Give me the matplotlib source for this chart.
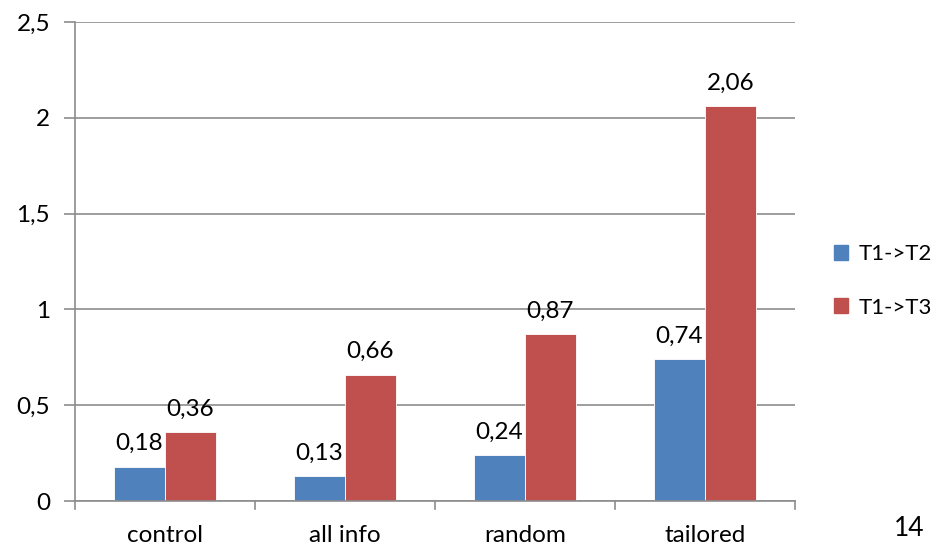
import matplotlib
matplotlib.use("Agg")
import matplotlib.pyplot as plt
from matplotlib.patches import Patch
import numpy as np

categories = ["control", "all info", "random", "tailored"]
series_names = ["T1->T2", "T1->T3"]
t1_t2 = [0.18, 0.13, 0.24, 0.74]
t1_t3 = [0.36, 0.66, 0.87, 2.06]
y_ticks = [0, 0.5, 1, 1.5, 2, 2.5]
y_tick_labels = ["0", "0,5", "1", "1,5", "2", "2,5"]
page_number = "14"

plt.rcParams["font.family"] = ["Lato", "DejaVu Sans"]

blue = "#4F81BD"
red = "#C0504D"
grid_color = "#8C8C8C"
fs = 17.5

fig = plt.figure(figsize=(9.48, 5.45), dpi=100)
ax = fig.add_axes([75 / 948, 1 - 501 / 545, 720 / 948, 479 / 545])

x = np.arange(len(categories))
w = 0.283
b1 = ax.bar(x - w / 2, t1_t2, width=w, color=blue, edgecolor="white", linewidth=0.6)
b2 = ax.bar(x + w / 2, t1_t3, width=w, color=red, edgecolor="white", linewidth=0.6)

def fmt(v):
    return f"{v:.2f}".replace(".", ",")

for bars, vals in ((b1, t1_t2), (b2, t1_t3)):
    for rect, v in zip(bars, vals):
        ax.annotate(fmt(v), (rect.get_x() + rect.get_width() / 2, v),
                    xytext=(0, 9), textcoords="offset points",
                    ha="center", va="bottom", fontsize=fs, color="black")

ax.set_xlim(-0.5, len(categories) - 0.5)
ax.set_ylim(0, 2.5)
ax.set_yticks(y_ticks)
ax.set_yticklabels(y_tick_labels)
ax.set_xticks(x)
ax.set_xticklabels(categories)
ax.tick_params(axis="x", length=0, pad=17, labelsize=fs)
ax.tick_params(axis="y", length=8, width=1.2, color=grid_color, pad=10, labelsize=fs)

# category boundary ticks on the x axis
for b in np.arange(-0.5, len(categories), 1.0):
    ax.plot([b, b], [0, -0.04], color=grid_color, lw=1.2, clip_on=False)

ax.yaxis.grid(True, color=grid_color, lw=1.2)
ax.set_axisbelow(True)
for side in ("top", "right"):
    ax.spines[side].set_visible(False)
for side in ("left", "bottom"):
    ax.spines[side].set_color(grid_color)
    ax.spines[side].set_linewidth(1.2)

handles = [Patch(color=blue), Patch(color=red)]
fig.legend(handles, series_names, loc="center left",
           bbox_to_anchor=(834 / 948, 1 - 281 / 545), frameon=False,
           borderpad=0, borderaxespad=0,
           fontsize=16, handlelength=0.65, handleheight=0.65,
           handletextpad=0.45, labelspacing=1.5)

fig.text(909 / 948, 1 - 528 / 545, page_number, ha="center", va="center", fontsize=19)

fig.savefig("out.png", dpi=100)
